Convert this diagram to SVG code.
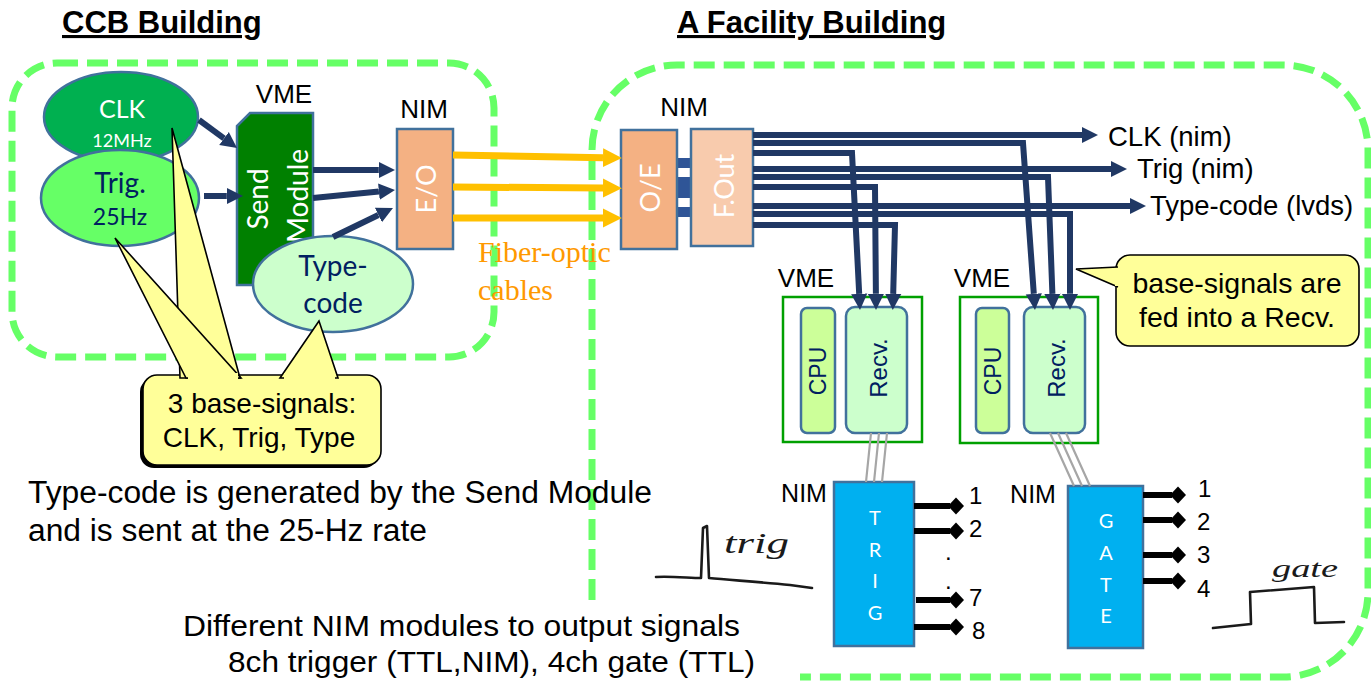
<svg xmlns="http://www.w3.org/2000/svg" width="1371" height="681" viewBox="0 0 1371 681">
<style>
.ar{font-family:"Liberation Sans",Arial,sans-serif;fill:#000}
.cal{font-family:Lato,"Open Sans",sans-serif}
.dash{fill:none;stroke:#66FF66;stroke-width:7;stroke-dasharray:21 9}
.nv{fill:none;stroke:#203864;stroke-width:6;stroke-linejoin:miter}
.or{fill:none;stroke:#FFC000;stroke-width:7}
.ell{stroke:#41719C;stroke-width:2.5}
.bx{stroke:#41719C;stroke-width:2.5}
.vme{fill:#fff;stroke:#00A000;stroke-width:2.5}
.gray{stroke:#A6A6A6;stroke-width:2.2;fill:none}
.out{stroke:#000;stroke-width:6}
.call{fill:#FFFF99;stroke:#000;stroke-width:1.6}
.hand{fill:none;stroke:#1a1a1a;stroke-width:2.6;stroke-linecap:round;stroke-linejoin:round}
.wt{fill:#fff}
.nvt{fill:#002060}
</style>
<defs>
<marker id="ahN" viewBox="0 0 10 10" refX="0" refY="5" markerWidth="2.7" markerHeight="3" orient="auto" markerUnits="strokeWidth"><path d="M0,0 L10,5 L0,10 z" fill="#203864"/></marker>
<marker id="ahO" viewBox="0 0 10 10" refX="0" refY="5" markerWidth="2.7" markerHeight="3" orient="auto" markerUnits="strokeWidth"><path d="M0,0 L10,5 L0,10 z" fill="#FFC000"/></marker>
<path id="dia" d="M-8,0 L0,-8.5 L8,0 L0,8.5 z" fill="#000"/>
</defs>
<rect width="1371" height="681" fill="#fff"/>

<!-- titles -->
<text class="ar" x="62" y="33" font-size="31" font-weight="bold" text-decoration="underline">CCB Building</text>
<text class="ar" x="677" y="33" font-size="31" font-weight="bold" text-decoration="underline">A Facility Building</text>

<!-- building boundaries -->
<g id="ccb-building">
<rect class="dash" x="12" y="63" width="482" height="294" rx="45"/>
</g>
<g id="facility-building">
<path class="dash" d="M592,600 V150 A85,85 0 0 1 677,65 H1283 A85,85 0 0 1 1368,150 V592 A85,85 0 0 1 1283,677 H800"/>
</g>

<!-- CCB nodes -->
<g id="clk">
<ellipse class="ell" cx="121" cy="117" rx="77" ry="45" fill="#00B050"/>
<text class="cal wt" x="122" y="118" font-size="25" text-anchor="middle">CLK</text>
<text class="cal wt" x="122" y="147" font-size="18" text-anchor="middle">12MHz</text>
</g>
<g id="trig">
<ellipse class="ell" cx="120" cy="198" rx="79" ry="48" fill="#66FF66"/>
<text class="cal nvt" x="120" y="193" font-size="28" text-anchor="middle">Trig.</text>
<text class="cal nvt" x="120" y="225" font-size="23" text-anchor="middle">25Hz</text>
</g>
<g id="vme-send">
<text class="ar" x="284" y="103" font-size="26" text-anchor="middle">VME</text>
<path class="bx" d="M250,113 H313 V285 H237 V126 Z" fill="#008000"/>
<text class="cal wt" font-size="28" text-anchor="middle" dominant-baseline="central" transform="translate(257,199) rotate(-90)">Send</text>
<text class="cal wt" font-size="28" text-anchor="middle" dominant-baseline="central" transform="translate(297,196) rotate(-90)">Module</text>
</g>
<g id="type-code">
<ellipse class="ell" cx="333" cy="284" rx="80" ry="48" fill="#CCFFCC"/>
<text class="cal nvt" x="333" y="276" font-size="28" text-anchor="middle">Type-</text>
<text class="cal nvt" x="333" y="313" font-size="28" text-anchor="middle">code</text>
</g>
<g id="eo">
<text class="ar" x="424" y="118" font-size="26" text-anchor="middle">NIM</text>
<rect class="bx" x="397" y="129" width="56" height="120" fill="#F4B183"/>
<text class="cal wt" font-size="27" text-anchor="middle" dominant-baseline="central" transform="translate(425,189) rotate(-90)">E/O</text>
</g>

<!-- Facility nodes -->
<g id="oe-fout">
<text class="ar" x="684" y="116" font-size="26" text-anchor="middle">NIM</text>
<rect x="677" y="158" width="14" height="10" fill="#2F5597"/>
<rect x="677" y="177" width="14" height="21" fill="#2F5597"/>
<rect x="677" y="207" width="14" height="10" fill="#2F5597"/>
<rect class="bx" x="621" y="130" width="56" height="119" fill="#F4B183"/>
<text class="cal wt" font-size="27" text-anchor="middle" dominant-baseline="central" transform="translate(649,188) rotate(-90)">O/E</text>
<rect class="bx" x="691" y="129" width="62" height="117" fill="#F8CBAD"/>
<text class="cal wt" font-size="27" text-anchor="middle" dominant-baseline="central" transform="translate(723,186) rotate(-90)">F.Out</text>
</g>
<g id="vme1">
<text class="ar" x="806" y="287" font-size="26" text-anchor="middle">VME</text>
<rect class="vme" x="783" y="297" width="139" height="145"/>
<rect class="bx" x="801" y="308" width="34" height="125" rx="6" fill="#CCFF99"/>
<text class="ar nvt" font-size="23" text-anchor="middle" dominant-baseline="central" transform="translate(818,371) rotate(-90)">CPU</text>
<rect class="bx" x="846" y="307" width="61" height="126" rx="9" fill="#CCFFCC"/>
<text class="ar nvt" font-size="24" text-anchor="middle" dominant-baseline="central" transform="translate(878,368) rotate(-90)">Recv.</text>
</g>
<g id="vme2">
<text class="ar" x="982" y="287" font-size="26" text-anchor="middle">VME</text>
<rect class="vme" x="960" y="297" width="138" height="146"/>
<rect class="bx" x="976" y="308" width="33" height="125" rx="6" fill="#CCFF99"/>
<text class="ar nvt" font-size="23" text-anchor="middle" dominant-baseline="central" transform="translate(993,371) rotate(-90)">CPU</text>
<rect class="bx" x="1024" y="307" width="61" height="126" rx="9" fill="#CCFFCC"/>
<text class="ar nvt" font-size="24" text-anchor="middle" dominant-baseline="central" transform="translate(1056,368) rotate(-90)">Recv.</text>
</g>
<g id="nim-trig">
<text class="ar" x="804" y="502" font-size="25" text-anchor="middle">NIM</text>
<rect class="bx" x="834" y="482" width="80" height="164" fill="#00B0F0"/>
<g class="cal wt" font-size="20" text-anchor="middle">
<text x="875" y="525">T</text><text x="875" y="557">R</text><text x="875" y="588">I</text><text x="875" y="620">G</text>
</g>
<line class="out" x1="914" y1="506" x2="950" y2="506"/><use href="#dia" x="956" y="506"/>
<line class="out" x1="914" y1="531" x2="950" y2="531"/><use href="#dia" x="956" y="531"/>
<line class="out" x1="916" y1="600" x2="950" y2="600"/><use href="#dia" x="956" y="600"/>
<line class="out" x1="914" y1="627" x2="950" y2="627"/><use href="#dia" x="956" y="627"/>
<g class="ar" font-size="24">
<text x="969" y="504">1</text><text x="969" y="537">2</text>
<text x="945" y="560">.</text><text x="945" y="589">.</text>
<text x="969" y="606">7</text><text x="972" y="639">8</text>
</g>
</g>
<g id="nim-gate">
<text class="ar" x="1033" y="503" font-size="25" text-anchor="middle">NIM</text>
<rect class="bx" x="1068" y="486" width="75" height="162" fill="#00B0F0"/>
<g class="cal wt" font-size="20" text-anchor="middle">
<text x="1106" y="528">G</text><text x="1106" y="560">A</text><text x="1106" y="592">T</text><text x="1106" y="623">E</text>
</g>
<line class="out" x1="1143" y1="495" x2="1172" y2="495"/><use href="#dia" x="1178" y="495"/>
<line class="out" x1="1143" y1="520" x2="1172" y2="520"/><use href="#dia" x="1178" y="520"/>
<line class="out" x1="1143" y1="555" x2="1172" y2="555"/><use href="#dia" x="1178" y="555"/>
<line class="out" x1="1143" y1="581" x2="1172" y2="581"/><use href="#dia" x="1178" y="581"/>
<g class="ar" font-size="24">
<text x="1198" y="497">1</text><text x="1197" y="530">2</text><text x="1197" y="563">3</text><text x="1197" y="597">4</text>
</g>
</g>

<!-- connectors -->
<g id="connectors">
<path class="nv" d="M199,120 L224,138.4" marker-end="url(#ahN)"/>
<path class="nv" d="M204,196 L226.8,196" marker-end="url(#ahN)"/>
<path class="nv" d="M313,170 L378.8,170" marker-end="url(#ahN)"/>
<path class="nv" d="M313,198 L378.9,191.6" marker-end="url(#ahN)"/>
<path class="nv" d="M333,237 L378.4,215" marker-end="url(#ahN)"/>
<path class="or" d="M453,155 L603,157.7" marker-end="url(#ahO)"/>
<path class="or" d="M453,187 L603,188" marker-end="url(#ahO)"/>
<path class="or" d="M453,218 L603,218" marker-end="url(#ahO)"/>
<path class="nv" d="M753,135 H1082" marker-end="url(#ahN)"/>
<path class="nv" d="M753,169 H1111" marker-end="url(#ahN)"/>
<path class="nv" d="M753,206 H1130" marker-end="url(#ahN)"/>
<path class="nv" d="M753,153 H852 L859.2,293.8" marker-end="url(#ahN)"/>
<path class="nv" d="M753,187 H875 L875.9,293.8" marker-end="url(#ahN)"/>
<path class="nv" d="M753,225 H895 L893.2,293.8" marker-end="url(#ahN)"/>
<path class="nv" d="M753,143 H1023 L1033.8,293.8" marker-end="url(#ahN)"/>
<path class="nv" d="M753,177 H1048 L1052.4,293.8" marker-end="url(#ahN)"/>
<path class="nv" d="M753,214 H1070 L1070,293.8" marker-end="url(#ahN)"/>
<path class="gray" d="M871,433 L866,482 M879,433 L874,482 M887,433 L882,482"/>
<path class="gray" d="M1050,433 L1074,486 M1058,433 L1082,486 M1066,433 L1090,486"/>
</g>

<!-- fiber label -->
<text x="478" y="262" font-family="'Liberation Serif','Times New Roman',serif" font-size="30" fill="#FF9900">Fiber-optic</text>
<text x="478" y="300" font-family="'Liberation Serif','Times New Roman',serif" font-size="30" fill="#FF9900">cables</text>

<!-- callout: 3 base-signals -->
<g id="callout-base">
<rect x="140" y="378" width="238" height="90" rx="14" fill="#000"/>
<rect class="call" x="143" y="375" width="238" height="90" rx="14"/>
<path class="call" d="M172,128 L180,378 L240,378 Z"/>
<path class="call" d="M115,238 L186,378 L241,378 Z"/>
<path class="call" d="M319,321 L280,378 L338,378 Z"/>
<rect x="188" y="373" width="50" height="8" fill="#FFFF99"/>
<rect x="284" y="373" width="51" height="8" fill="#FFFF99"/>
<text class="ar" x="262" y="413" font-size="28" text-anchor="middle">3 base-signals:</text>
<text class="ar" x="259" y="447" font-size="28" text-anchor="middle">CLK, Trig, Type</text>
</g>

<!-- callout: fed into Recv -->
<g id="callout-recv">
<rect class="call" x="1116" y="255" width="243" height="91" rx="14"/>
<path class="call" d="M1118,267 L1076,269 L1118,287"/>
<rect x="1115" y="268" width="5" height="18" fill="#FFFF99"/>
<text class="ar" x="1237" y="293" font-size="28.5" text-anchor="middle">base-signals are</text>
<text class="ar" x="1237" y="327" font-size="28.5" text-anchor="middle">fed into a Recv.</text>
</g>

<!-- output signal labels -->
<text class="ar" x="1108" y="146" font-size="27.5">CLK (nim)</text>
<text class="ar" x="1137" y="178" font-size="27.5">Trig (nim)</text>
<text class="ar" x="1150" y="215" font-size="27.5">Type-code (lvds)</text>

<!-- sketches -->
<path class="hand" d="M656,577 C670,576 690,578 701,578 L703,528 L707,526 L709,578 C730,580 760,582 790,585 L812,588"/>
<text x="724" y="553" font-family="'Liberation Serif',serif" font-style="italic" font-size="30" fill="#1a1a1a" textLength="65" lengthAdjust="spacingAndGlyphs">trig</text>
<path class="hand" d="M1213,628 L1251,624 L1250,592 L1314,587 L1315,623 L1344,622"/>
<text x="1272" y="577" font-family="'Liberation Serif',serif" font-style="italic" font-size="26" fill="#1a1a1a" textLength="66" lengthAdjust="spacingAndGlyphs">gate</text>

<!-- notes -->
<text class="ar" x="28" y="503" font-size="31" textLength="624" lengthAdjust="spacingAndGlyphs">Type-code is generated by the Send Module</text>
<text class="ar" x="28" y="541" font-size="31" textLength="399" lengthAdjust="spacingAndGlyphs">and is sent at the 25-Hz rate</text>
<text class="ar" x="183" y="636" font-size="30" textLength="557" lengthAdjust="spacingAndGlyphs">Different NIM modules to output signals</text>
<text class="ar" x="228" y="672" font-size="30" textLength="527" lengthAdjust="spacingAndGlyphs">8ch trigger (TTL,NIM), 4ch gate (TTL)</text>
</svg>
